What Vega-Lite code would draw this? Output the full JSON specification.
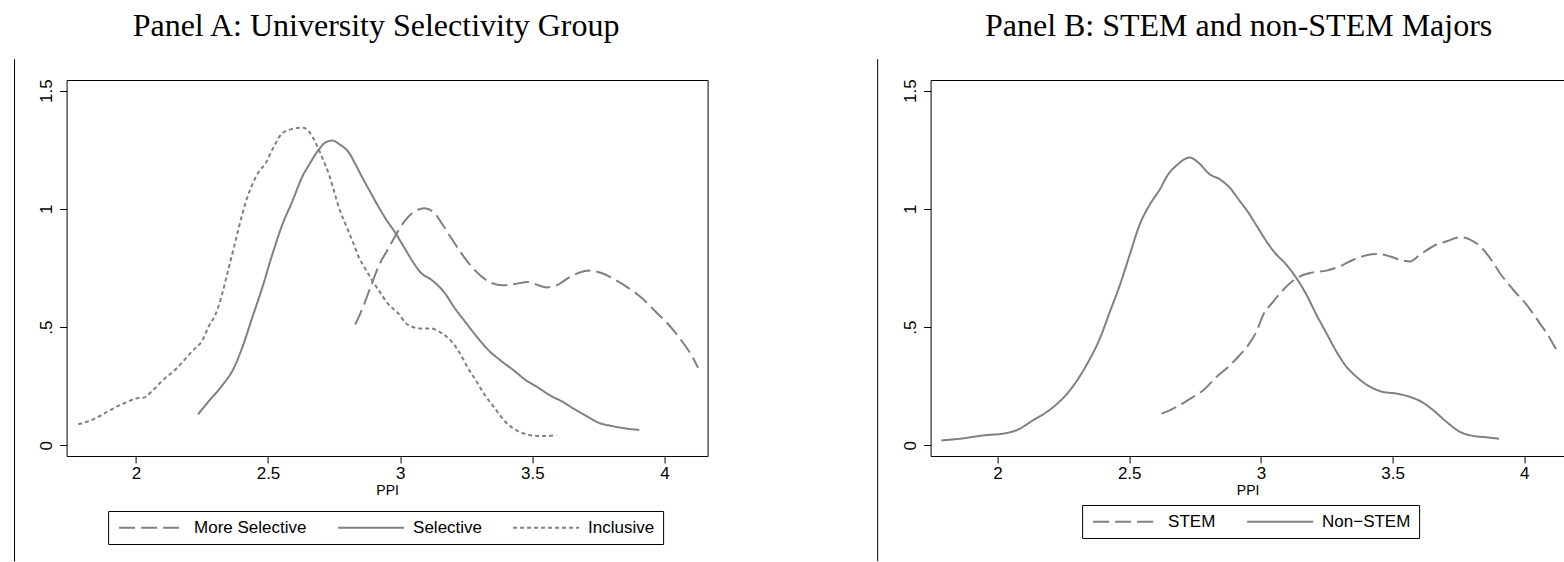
{
  "$schema": "https://vega.github.io/schema/vega-lite/v6.json",
  "background": "white",
  "padding": {"left": 12.6, "top": 9, "right": 0, "bottom": 0},
  "spacing": 223,
  "bounds": "flush",
  "resolve": {"scale": {"strokeDash": "independent"}, "legend": {"strokeDash": "independent"}},
  "config": {
    "font": "Liberation Sans",
    "view": {"stroke": "black", "strokeWidth": 1},
    "axis": {"grid": false, "labelFont": "Liberation Sans", "labelFontSize": 17, "labelColor": "black", "tickColor": "black", "domainColor": "black", "tickSize": 7, "titleFont": "Liberation Sans", "titleFontWeight": "normal", "titleColor": "black", "titleFontSize": 14},
    "title": {"font": "Liberation Serif", "fontSize": 32, "fontWeight": "normal", "color": "black"},
    "legend": {"title": null, "orient": "none", "direction": "horizontal", "symbolType": "M -1,0 H 11", "symbolSize": 121, "symbolStrokeWidth": 2, "symbolStrokeColor": "#808080", "labelOffset": 61, "columnPadding": 27, "labelFontSize": 17, "labelFont": "Liberation Sans", "labelColor": "black", "strokeColor": "black", "padding": 8, "labelBaseline": "middle", "fillColor": "white"}
  },
  "datasets": {
    "A": [
      {"group": "More Selective", "x": 2.830, "y": 0.511}, {"group": "More Selective", "x": 2.858, "y": 0.581}, {"group": "More Selective", "x": 2.889, "y": 0.673}, {"group": "More Selective", "x": 2.921, "y": 0.764}, {"group": "More Selective", "x": 2.953, "y": 0.828}, {"group": "More Selective", "x": 2.984, "y": 0.891}, {"group": "More Selective", "x": 3.016, "y": 0.947}, {"group": "More Selective", "x": 3.054, "y": 0.989}, {"group": "More Selective", "x": 3.092, "y": 1.003}, {"group": "More Selective", "x": 3.130, "y": 0.982}, {"group": "More Selective", "x": 3.161, "y": 0.933}, {"group": "More Selective", "x": 3.193, "y": 0.877}, {"group": "More Selective", "x": 3.231, "y": 0.813}, {"group": "More Selective", "x": 3.269, "y": 0.757}, {"group": "More Selective", "x": 3.307, "y": 0.715}, {"group": "More Selective", "x": 3.345, "y": 0.687}, {"group": "More Selective", "x": 3.389, "y": 0.677}, {"group": "More Selective", "x": 3.433, "y": 0.682}, {"group": "More Selective", "x": 3.484, "y": 0.691}, {"group": "More Selective", "x": 3.522, "y": 0.677}, {"group": "More Selective", "x": 3.553, "y": 0.668}, {"group": "More Selective", "x": 3.598, "y": 0.680}, {"group": "More Selective", "x": 3.636, "y": 0.708}, {"group": "More Selective", "x": 3.674, "y": 0.729}, {"group": "More Selective", "x": 3.718, "y": 0.739}, {"group": "More Selective", "x": 3.762, "y": 0.729}, {"group": "More Selective", "x": 3.813, "y": 0.701}, {"group": "More Selective", "x": 3.863, "y": 0.666}, {"group": "More Selective", "x": 3.914, "y": 0.623}, {"group": "More Selective", "x": 3.965, "y": 0.567}, {"group": "More Selective", "x": 4.015, "y": 0.511}, {"group": "More Selective", "x": 4.066, "y": 0.440}, {"group": "More Selective", "x": 4.104, "y": 0.377}, {"group": "More Selective", "x": 4.127, "y": 0.328},
      {"group": "Selective", "x": 2.235, "y": 0.131}, {"group": "Selective", "x": 2.276, "y": 0.187}, {"group": "Selective", "x": 2.320, "y": 0.244}, {"group": "Selective", "x": 2.371, "y": 0.328}, {"group": "Selective", "x": 2.402, "y": 0.412}, {"group": "Selective", "x": 2.440, "y": 0.539}, {"group": "Selective", "x": 2.478, "y": 0.666}, {"group": "Selective", "x": 2.516, "y": 0.806}, {"group": "Selective", "x": 2.554, "y": 0.933}, {"group": "Selective", "x": 2.592, "y": 1.032}, {"group": "Selective", "x": 2.630, "y": 1.137}, {"group": "Selective", "x": 2.655, "y": 1.186}, {"group": "Selective", "x": 2.687, "y": 1.243}, {"group": "Selective", "x": 2.719, "y": 1.282}, {"group": "Selective", "x": 2.744, "y": 1.289}, {"group": "Selective", "x": 2.769, "y": 1.274}, {"group": "Selective", "x": 2.807, "y": 1.236}, {"group": "Selective", "x": 2.832, "y": 1.186}, {"group": "Selective", "x": 2.858, "y": 1.130}, {"group": "Selective", "x": 2.889, "y": 1.067}, {"group": "Selective", "x": 2.921, "y": 1.003}, {"group": "Selective", "x": 2.953, "y": 0.945}, {"group": "Selective", "x": 2.978, "y": 0.905}, {"group": "Selective", "x": 3.016, "y": 0.835}, {"group": "Selective", "x": 3.047, "y": 0.778}, {"group": "Selective", "x": 3.079, "y": 0.729}, {"group": "Selective", "x": 3.117, "y": 0.701}, {"group": "Selective", "x": 3.168, "y": 0.645}, {"group": "Selective", "x": 3.206, "y": 0.581}, {"group": "Selective", "x": 3.244, "y": 0.525}, {"group": "Selective", "x": 3.288, "y": 0.462}, {"group": "Selective", "x": 3.332, "y": 0.405}, {"group": "Selective", "x": 3.383, "y": 0.356}, {"group": "Selective", "x": 3.433, "y": 0.314}, {"group": "Selective", "x": 3.471, "y": 0.279}, {"group": "Selective", "x": 3.522, "y": 0.244}, {"group": "Selective", "x": 3.572, "y": 0.208}, {"group": "Selective", "x": 3.610, "y": 0.187}, {"group": "Selective", "x": 3.661, "y": 0.152}, {"group": "Selective", "x": 3.705, "y": 0.124}, {"group": "Selective", "x": 3.750, "y": 0.096}, {"group": "Selective", "x": 3.800, "y": 0.082}, {"group": "Selective", "x": 3.850, "y": 0.072}, {"group": "Selective", "x": 3.905, "y": 0.065},
      {"group": "Inclusive", "x": 1.782, "y": 0.089}, {"group": "Inclusive", "x": 1.839, "y": 0.110}, {"group": "Inclusive", "x": 1.896, "y": 0.145}, {"group": "Inclusive", "x": 1.960, "y": 0.180}, {"group": "Inclusive", "x": 2.004, "y": 0.199}, {"group": "Inclusive", "x": 2.029, "y": 0.201}, {"group": "Inclusive", "x": 2.054, "y": 0.222}, {"group": "Inclusive", "x": 2.099, "y": 0.272}, {"group": "Inclusive", "x": 2.156, "y": 0.328}, {"group": "Inclusive", "x": 2.219, "y": 0.405}, {"group": "Inclusive", "x": 2.250, "y": 0.441}, {"group": "Inclusive", "x": 2.276, "y": 0.504}, {"group": "Inclusive", "x": 2.301, "y": 0.553}, {"group": "Inclusive", "x": 2.326, "y": 0.638}, {"group": "Inclusive", "x": 2.345, "y": 0.722}, {"group": "Inclusive", "x": 2.364, "y": 0.806}, {"group": "Inclusive", "x": 2.383, "y": 0.891}, {"group": "Inclusive", "x": 2.402, "y": 0.975}, {"group": "Inclusive", "x": 2.421, "y": 1.046}, {"group": "Inclusive", "x": 2.440, "y": 1.102}, {"group": "Inclusive", "x": 2.466, "y": 1.158}, {"group": "Inclusive", "x": 2.491, "y": 1.193}, {"group": "Inclusive", "x": 2.516, "y": 1.250}, {"group": "Inclusive", "x": 2.554, "y": 1.320}, {"group": "Inclusive", "x": 2.592, "y": 1.338}, {"group": "Inclusive", "x": 2.630, "y": 1.344}, {"group": "Inclusive", "x": 2.655, "y": 1.327}, {"group": "Inclusive", "x": 2.681, "y": 1.278}, {"group": "Inclusive", "x": 2.706, "y": 1.214}, {"group": "Inclusive", "x": 2.731, "y": 1.144}, {"group": "Inclusive", "x": 2.750, "y": 1.074}, {"group": "Inclusive", "x": 2.769, "y": 1.003}, {"group": "Inclusive", "x": 2.794, "y": 0.933}, {"group": "Inclusive", "x": 2.820, "y": 0.863}, {"group": "Inclusive", "x": 2.845, "y": 0.792}, {"group": "Inclusive", "x": 2.870, "y": 0.743}, {"group": "Inclusive", "x": 2.896, "y": 0.694}, {"group": "Inclusive", "x": 2.921, "y": 0.652}, {"group": "Inclusive", "x": 2.953, "y": 0.600}, {"group": "Inclusive", "x": 2.991, "y": 0.560}, {"group": "Inclusive", "x": 3.028, "y": 0.511}, {"group": "Inclusive", "x": 3.079, "y": 0.494}, {"group": "Inclusive", "x": 3.117, "y": 0.494}, {"group": "Inclusive", "x": 3.155, "y": 0.476}, {"group": "Inclusive", "x": 3.193, "y": 0.441}, {"group": "Inclusive", "x": 3.225, "y": 0.391}, {"group": "Inclusive", "x": 3.256, "y": 0.328}, {"group": "Inclusive", "x": 3.288, "y": 0.272}, {"group": "Inclusive", "x": 3.319, "y": 0.215}, {"group": "Inclusive", "x": 3.357, "y": 0.159}, {"group": "Inclusive", "x": 3.395, "y": 0.103}, {"group": "Inclusive", "x": 3.433, "y": 0.068}, {"group": "Inclusive", "x": 3.471, "y": 0.049}, {"group": "Inclusive", "x": 3.522, "y": 0.040}, {"group": "Inclusive", "x": 3.560, "y": 0.040}, {"group": "Inclusive", "x": 3.591, "y": 0.044}
    ],
    "B": [
      {"group": "Non−STEM", "x": 1.787, "y": 0.021}, {"group": "Non−STEM", "x": 1.857, "y": 0.028}, {"group": "Non−STEM", "x": 1.946, "y": 0.042}, {"group": "Non−STEM", "x": 2.034, "y": 0.052}, {"group": "Non−STEM", "x": 2.072, "y": 0.064}, {"group": "Non−STEM", "x": 2.135, "y": 0.106}, {"group": "Non−STEM", "x": 2.205, "y": 0.156}, {"group": "Non−STEM", "x": 2.275, "y": 0.233}, {"group": "Non−STEM", "x": 2.338, "y": 0.340}, {"group": "Non−STEM", "x": 2.389, "y": 0.453}, {"group": "Non−STEM", "x": 2.427, "y": 0.566}, {"group": "Non−STEM", "x": 2.465, "y": 0.679}, {"group": "Non−STEM", "x": 2.502, "y": 0.806}, {"group": "Non−STEM", "x": 2.540, "y": 0.934}, {"group": "Non−STEM", "x": 2.578, "y": 1.018}, {"group": "Non−STEM", "x": 2.616, "y": 1.082}, {"group": "Non−STEM", "x": 2.648, "y": 1.146}, {"group": "Non−STEM", "x": 2.680, "y": 1.184}, {"group": "Non−STEM", "x": 2.730, "y": 1.217}, {"group": "Non−STEM", "x": 2.762, "y": 1.196}, {"group": "Non−STEM", "x": 2.806, "y": 1.146}, {"group": "Non−STEM", "x": 2.844, "y": 1.125}, {"group": "Non−STEM", "x": 2.882, "y": 1.089}, {"group": "Non−STEM", "x": 2.920, "y": 1.033}, {"group": "Non−STEM", "x": 2.952, "y": 0.985}, {"group": "Non−STEM", "x": 2.983, "y": 0.930}, {"group": "Non−STEM", "x": 3.021, "y": 0.863}, {"group": "Non−STEM", "x": 3.053, "y": 0.814}, {"group": "Non−STEM", "x": 3.091, "y": 0.771}, {"group": "Non−STEM", "x": 3.135, "y": 0.707}, {"group": "Non−STEM", "x": 3.173, "y": 0.637}, {"group": "Non−STEM", "x": 3.211, "y": 0.552}, {"group": "Non−STEM", "x": 3.249, "y": 0.474}, {"group": "Non−STEM", "x": 3.287, "y": 0.396}, {"group": "Non−STEM", "x": 3.325, "y": 0.332}, {"group": "Non−STEM", "x": 3.363, "y": 0.290}, {"group": "Non−STEM", "x": 3.414, "y": 0.248}, {"group": "Non−STEM", "x": 3.464, "y": 0.226}, {"group": "Non−STEM", "x": 3.515, "y": 0.219}, {"group": "Non−STEM", "x": 3.566, "y": 0.205}, {"group": "Non−STEM", "x": 3.610, "y": 0.184}, {"group": "Non−STEM", "x": 3.654, "y": 0.149}, {"group": "Non−STEM", "x": 3.705, "y": 0.099}, {"group": "Non−STEM", "x": 3.756, "y": 0.057}, {"group": "Non−STEM", "x": 3.806, "y": 0.040}, {"group": "Non−STEM", "x": 3.857, "y": 0.034}, {"group": "Non−STEM", "x": 3.904, "y": 0.028},
      {"group": "STEM", "x": 2.623, "y": 0.134}, {"group": "STEM", "x": 2.680, "y": 0.163}, {"group": "STEM", "x": 2.743, "y": 0.205}, {"group": "STEM", "x": 2.781, "y": 0.233}, {"group": "STEM", "x": 2.832, "y": 0.290}, {"group": "STEM", "x": 2.876, "y": 0.332}, {"group": "STEM", "x": 2.920, "y": 0.382}, {"group": "STEM", "x": 2.952, "y": 0.424}, {"group": "STEM", "x": 2.983, "y": 0.481}, {"group": "STEM", "x": 3.009, "y": 0.552}, {"group": "STEM", "x": 3.047, "y": 0.608}, {"group": "STEM", "x": 3.085, "y": 0.658}, {"group": "STEM", "x": 3.135, "y": 0.707}, {"group": "STEM", "x": 3.186, "y": 0.729}, {"group": "STEM", "x": 3.249, "y": 0.739}, {"group": "STEM", "x": 3.300, "y": 0.757}, {"group": "STEM", "x": 3.351, "y": 0.785}, {"group": "STEM", "x": 3.401, "y": 0.804}, {"group": "STEM", "x": 3.446, "y": 0.809}, {"group": "STEM", "x": 3.490, "y": 0.799}, {"group": "STEM", "x": 3.528, "y": 0.785}, {"group": "STEM", "x": 3.566, "y": 0.778}, {"group": "STEM", "x": 3.604, "y": 0.806}, {"group": "STEM", "x": 3.654, "y": 0.842}, {"group": "STEM", "x": 3.705, "y": 0.863}, {"group": "STEM", "x": 3.756, "y": 0.880}, {"group": "STEM", "x": 3.794, "y": 0.870}, {"group": "STEM", "x": 3.832, "y": 0.842}, {"group": "STEM", "x": 3.870, "y": 0.792}, {"group": "STEM", "x": 3.907, "y": 0.729}, {"group": "STEM", "x": 3.958, "y": 0.658}, {"group": "STEM", "x": 4.009, "y": 0.594}, {"group": "STEM", "x": 4.059, "y": 0.516}, {"group": "STEM", "x": 4.097, "y": 0.453}, {"group": "STEM", "x": 4.120, "y": 0.407}
    ]
  },
  "hconcat": [
    {
      "width": 641,
      "height": 376,
      "title": {"text": "Panel A: University Selectivity Group", "frame": "group", "anchor": "middle", "dx": -11, "offset": 16},
      "layer": [
        {
          "data": {"name": "A"},
          "mark": {"type": "line", "interpolate": "monotone", "strokeWidth": 2, "color": "#808080"},
          "encoding": {
            "x": {"field": "x", "type": "quantitative", "scale": {"domain": [1.738, 4.163], "nice": false, "zero": false}, "axis": {"values": [2, 2.5, 3, 3.5, 4], "format": "~g", "title": "PPI", "titlePadding": 2, "labelPadding": 3, "domain": false, "labelFlush": false}},
            "y": {"field": "y", "type": "quantitative", "scale": {"domain": [-0.045, 1.545], "nice": false, "zero": false}, "axis": {"values": [0, 0.5, 1, 1.5], "format": "~g", "labelExpr": "datum.value == 0.5 ? '.5' : datum.label", "labelAngle": -90, "labelAlign": "center", "labelBaseline": "alphabetic", "labelPadding": 8, "title": null, "domain": false}},
            "strokeDash": {"field": "group", "type": "nominal", "scale": {"domain": ["More Selective", "Selective", "Inclusive"], "range": [[16, 6], [1, 0], [4, 3]]}, "legend": {"legendX": 41.5, "legendY": 431, "columns": 3}}
          }
        },
        {
          "data": {"values": [{}]},
          "mark": {"type": "rule", "color": "black", "strokeWidth": 1},
          "encoding": {"x": {"datum": 1.541}, "y": {"datum": 1.633}, "y2": {"datum": -0.49}}
        }
      ]
    },
    {
      "width": 634,
      "height": 376,
      "view": {"stroke": null},
      "title": {"text": "Panel B: STEM and non-STEM Majors", "frame": "group", "anchor": "middle", "dx": -9, "offset": 16},
      "layer": [
        {
          "data": {"name": "B"},
          "mark": {"type": "line", "interpolate": "monotone", "strokeWidth": 2, "color": "#808080"},
          "encoding": {
            "x": {"field": "x", "type": "quantitative", "scale": {"domain": [1.746, 4.153], "nice": false, "zero": false}, "axis": {"values": [2, 2.5, 3, 3.5, 4], "format": "~g", "title": "PPI", "titlePadding": 2, "labelPadding": 3, "domain": true, "labelFlush": false}},
            "y": {"field": "y", "type": "quantitative", "scale": {"domain": [-0.045, 1.545], "nice": false, "zero": false}, "axis": {"values": [0, 0.5, 1, 1.5], "format": "~g", "labelExpr": "datum.value == 0.5 ? '.5' : datum.label", "labelAngle": -90, "labelAlign": "center", "labelBaseline": "alphabetic", "labelPadding": 8, "title": null, "domain": true}},
            "strokeDash": {"field": "group", "type": "nominal", "scale": {"domain": ["STEM", "Non−STEM"], "range": [[16, 6], [1, 0]]}, "legend": {"legendX": 151.5, "legendY": 425, "columns": 2}}
          }
        },
        {
          "data": {"values": [{}]},
          "mark": {"type": "rule", "color": "black", "strokeWidth": 1},
          "encoding": {
            "x": {"datum": 1.545, "axis": {"orient": "top", "labels": false, "ticks": false, "domain": true, "title": null, "grid": false}},
            "y": {"datum": 1.633},
            "y2": {"datum": -0.49}
          }
        }
      ],
      "resolve": {"axis": {"x": "independent"}}
    }
  ]
}
